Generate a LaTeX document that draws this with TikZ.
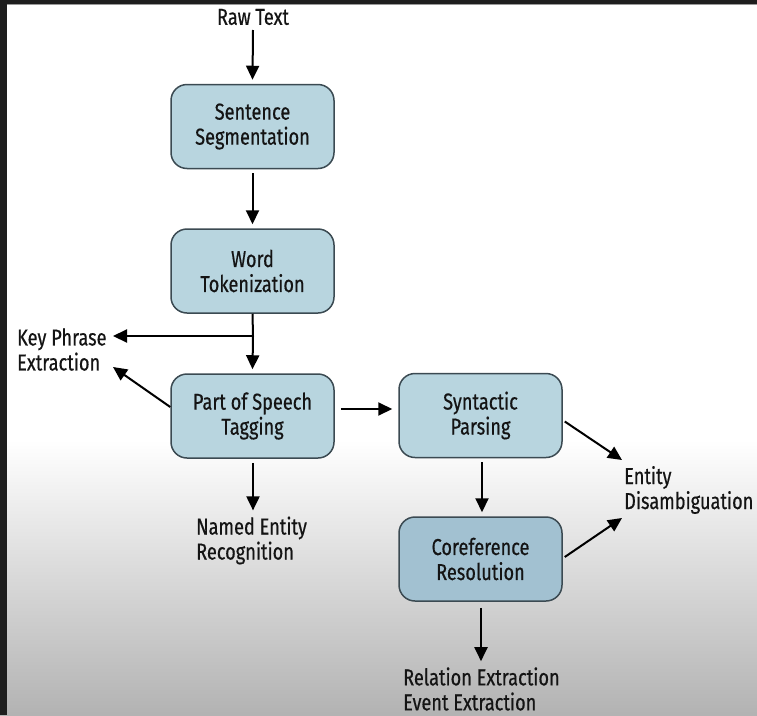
\documentclass[tikz,border=0pt]{standalone}
\usepackage{fontspec}
\setmainfont{Fira Sans}[FakeStretch=0.79, FakeBold=0.5]
\usetikzlibrary{arrows.meta,calc}
\definecolor{boxfill}{HTML}{B8D5DF}
\definecolor{boxfilldark}{HTML}{A2C1D1}
\definecolor{boxline}{HTML}{3B4A52}
\definecolor{frame}{HTML}{1E1E1E}
\begin{document}
\begin{tikzpicture}[x=1pt,y=-1pt,
  every node/.style={font=\fontsize{23}{25}\selectfont, text=black!92},
  stage/.style={draw=boxline, line width=1.5pt, fill=boxfill, rounded corners=16pt,
    minimum width=163pt, minimum height=84pt, align=center, inner sep=0pt},
  lbl/.style={align=left, inner sep=0pt, anchor=west},
  arr/.style={line width=2pt, -{Triangle[length=14pt,width=13pt]}},
  ln/.style={line width=2pt}]
% background
\useasboundingbox (0,0) rectangle (757,715);
\fill[white] (0,0) rectangle (757,715);
\shade[top color=white, bottom color=black!30] (0,440) rectangle (757,715);
\fill[frame] (0,0) rectangle (757,4);
\fill[black!40] (0,4) rectangle (757,5);
\fill[frame] (0,0) rectangle (7,715);
% nodes
\node[inner sep=0pt] (raw) at (253,17) {Raw Text};
\node[stage] (ss) at (252.5,126.5) {Sentence\\Segmentation};
\node[stage] (wt) at (252.5,271) {Word\\Tokenization};
\node[stage] (pos) at (252.5,416) {Part of Speech\\Tagging};
\node[stage] (sp) at (480.5,415.5) {Syntactic\\Parsing};
\node[stage, fill=boxfilldark] (cr) at (480.5,559) {Coreference\\Resolution};
\node[lbl] (kp) at (17,349.5) {Key Phrase\\Extraction};
\node[lbl] (ne) at (196,540.5) {Named Entity\\Recognition};
\node[lbl] (ed) at (624,490) {Entity\\Disambiguation};
\node[lbl] (re) at (403,689) {Relation Extraction\\Event Extraction};
% helper coordinates
\coordinate (br) at (253,336);
\coordinate (kparr) at (113,336);
\coordinate (kptip) at (113,367);
\coordinate (edtop) at (622,460);
\coordinate (edbot) at (622,518);
% connectors
\draw[arr] (253,30) -- ($(ss.north)+(0,-4)$);
\draw[arr] ($(ss.south)+(0,4)$) -- ($(wt.north)+(0,-4)$);
\draw[ln] (wt.south) -- (br);
\draw[arr] (br) -- ($(pos.north)+(0,-4)$);
\draw[arr] (br) -- (kparr);
\draw[arr] ($(pos.west)+(0,-9)$) -- (kptip);
\draw[arr] ($(pos.east)+(6,-7)$) -- ($(sp.west)+(-6,-6.5)$);
\draw[arr] ($(sp.east)+(2,6)$) -- (edtop);
\draw[arr] ($(cr.east)+(2,-2)$) -- (edbot);
\draw[arr] ($(sp.south)+(1.5,4)$) -- ($(cr.north)+(1.5,-4)$);
\draw[arr] ($(cr.south)+(0.5,6)$) -- ($(re.north west)+(78,-6)$);
\draw[arr] ($(pos.south)+(0.5,4)$) -- ($(ne.north west)+(57,-6)$);
\end{tikzpicture}
\end{document}
